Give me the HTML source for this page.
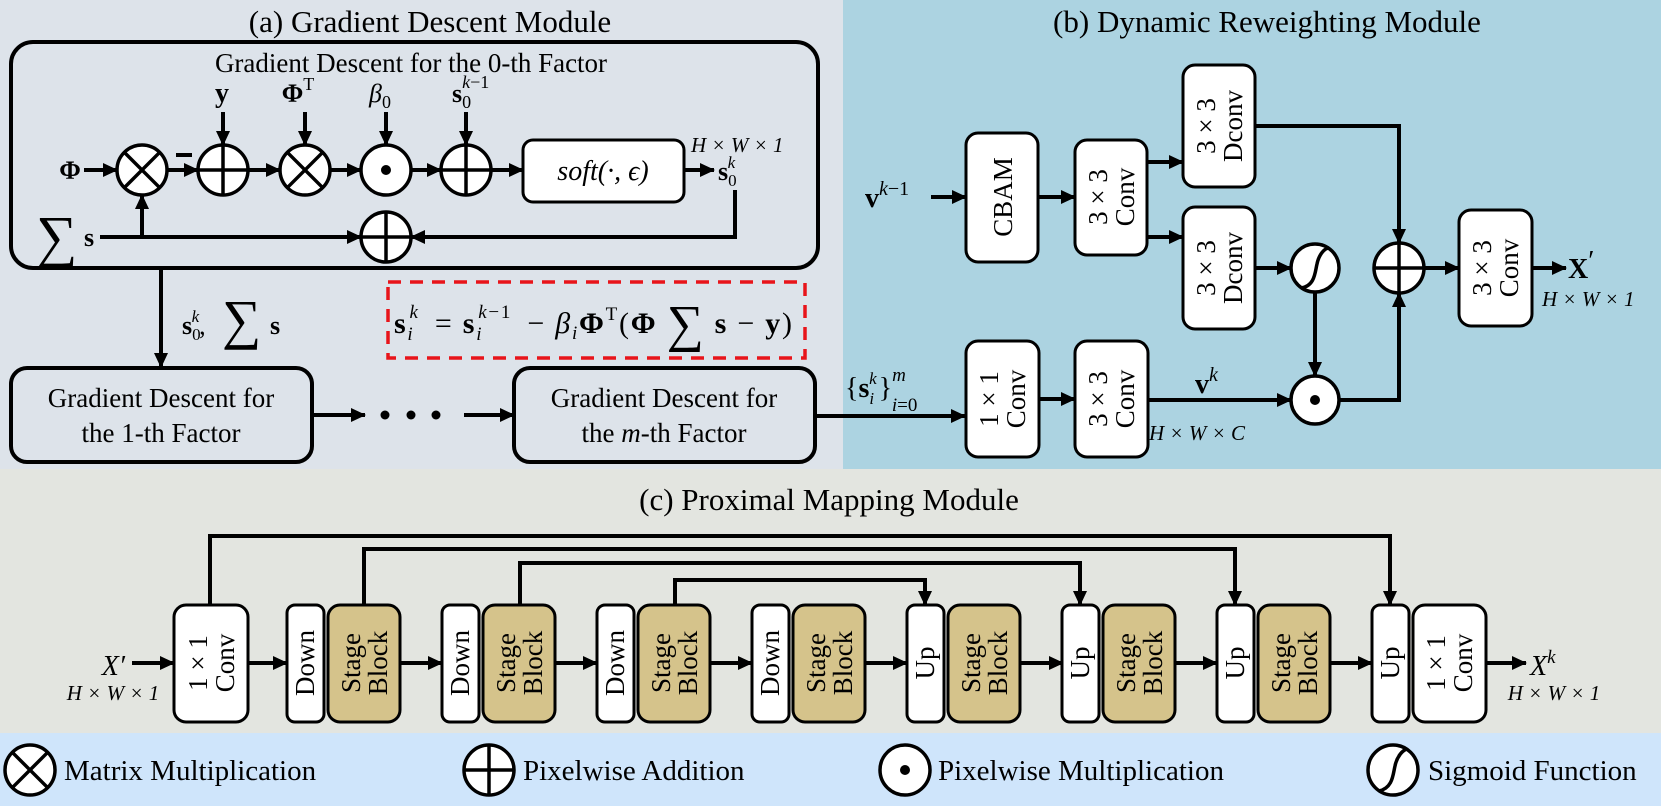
<!DOCTYPE html>
<html><head><meta charset="utf-8"><style>
html,body{margin:0;padding:0;background:#fff}
svg{display:block}
text{font-family:"Liberation Serif",serif;fill:#000}
.it{font-style:italic}
.b{font-weight:bold}
</style></head><body>
<svg width="1661" height="806" viewBox="0 0 1661 806" xmlns="http://www.w3.org/2000/svg">
<defs>
<marker id="a" markerUnits="userSpaceOnUse" markerWidth="16" markerHeight="16" refX="14" refY="8" orient="auto"><path d="M0,1 L15,8 L0,15 z" fill="#000"/></marker>
</defs>
<rect x="0" y="0" width="843" height="469" fill="#dde3ea"/>
<rect x="843" y="0" width="818" height="469" fill="#acd3e1"/>
<rect x="0" y="469" width="1661" height="264" fill="#e3e5e0"/>
<rect x="0" y="733" width="1661" height="73" fill="#cfe5fb"/>

<g stroke="#000" stroke-width="4" fill="none">
<rect x="11" y="42" width="807" height="226" rx="22"/>
<line x1="84" y1="170" x2="117" y2="170" marker-end="url(#a)"/>
<line x1="167" y1="170" x2="198" y2="170" marker-end="url(#a)"/>
<line x1="248" y1="170" x2="280" y2="170" marker-end="url(#a)"/>
<line x1="330" y1="170" x2="361" y2="170" marker-end="url(#a)"/>
<line x1="411" y1="170" x2="441" y2="170" marker-end="url(#a)"/>
<line x1="491" y1="170" x2="523" y2="170" marker-end="url(#a)"/>
<line x1="684" y1="170" x2="714" y2="170" marker-end="url(#a)"/>
<line x1="223" y1="112" x2="223" y2="145" marker-end="url(#a)"/>
<line x1="305" y1="112" x2="305" y2="145" marker-end="url(#a)"/>
<line x1="386" y1="112" x2="386" y2="145" marker-end="url(#a)"/>
<line x1="466" y1="112" x2="466" y2="145" marker-end="url(#a)"/>
<line x1="100" y1="237" x2="361" y2="237" marker-end="url(#a)"/>
<polyline points="735,190 735,237 411,237" marker-end="url(#a)"/>
<line x1="142" y1="237" x2="142" y2="195" marker-end="url(#a)"/>
<line x1="161" y1="268" x2="161" y2="367" marker-end="url(#a)"/>
<rect x="11" y="368" width="301" height="94" rx="16"/>
<rect x="514" y="368" width="301" height="94" rx="16"/>
<line x1="312" y1="415" x2="365" y2="415" marker-end="url(#a)"/>
<line x1="464" y1="415" x2="514" y2="415" marker-end="url(#a)"/>
<line x1="815" y1="416" x2="965" y2="416" marker-end="url(#a)"/>
<line x1="931" y1="197" x2="966" y2="197" marker-end="url(#a)"/>
<line x1="1038" y1="197" x2="1075" y2="197" marker-end="url(#a)"/>
<line x1="1147" y1="162" x2="1183" y2="162" marker-end="url(#a)"/>
<line x1="1147" y1="237" x2="1183" y2="237" marker-end="url(#a)"/>
<polyline points="1255,126 1399,126 1399,243" marker-end="url(#a)"/>
<line x1="1255" y1="268" x2="1291" y2="268" marker-end="url(#a)"/>
<line x1="1315" y1="292" x2="1315" y2="376" marker-end="url(#a)"/>
<line x1="1147" y1="400" x2="1291" y2="400" marker-end="url(#a)"/>
<polyline points="1339,400 1399,400 1399,293" marker-end="url(#a)"/>
<line x1="1424" y1="268" x2="1459" y2="268" marker-end="url(#a)"/>
<line x1="1532" y1="268" x2="1566" y2="268" marker-end="url(#a)"/>
<line x1="1039" y1="399" x2="1075" y2="399" marker-end="url(#a)"/>
<polyline points="210,605 210,536 1390,536 1390,605" marker-end="url(#a)"/>
<polyline points="364,605 364,549 1235,549 1235,605" marker-end="url(#a)"/>
<polyline points="520,605 520,563 1080,563 1080,605" marker-end="url(#a)"/>
<polyline points="675,605 675,580 925,580 925,605" marker-end="url(#a)"/>
<line x1="132" y1="663" x2="174" y2="663" marker-end="url(#a)"/>
<line x1="248" y1="663" x2="287" y2="663" marker-end="url(#a)"/>
<line x1="400" y1="663" x2="442" y2="663" marker-end="url(#a)"/>
<line x1="556" y1="663" x2="597" y2="663" marker-end="url(#a)"/>
<line x1="710" y1="663" x2="752" y2="663" marker-end="url(#a)"/>
<line x1="866" y1="663" x2="907" y2="663" marker-end="url(#a)"/>
<line x1="1021" y1="663" x2="1063" y2="663" marker-end="url(#a)"/>
<line x1="1175" y1="663" x2="1217" y2="663" marker-end="url(#a)"/>
<line x1="1331" y1="663" x2="1372" y2="663" marker-end="url(#a)"/>
<line x1="1486" y1="663" x2="1526" y2="663" marker-end="url(#a)"/>
</g>

<g stroke="#000" stroke-width="3.5" fill="#fff">
<g transform="translate(142,170)"><circle r="25"/><path d="M-17.7,-17.7 L17.7,17.7 M17.7,-17.7 L-17.7,17.7"/></g>
<g transform="translate(305,170)"><circle r="25"/><path d="M-17.7,-17.7 L17.7,17.7 M17.7,-17.7 L-17.7,17.7"/></g>
<g transform="translate(30,770)"><circle r="25"/><path d="M-17.7,-17.7 L17.7,17.7 M17.7,-17.7 L-17.7,17.7"/></g>
<g transform="translate(223,170)"><circle r="25"/><path d="M-25,0 L25,0 M0,-25 L0,25"/></g>
<g transform="translate(466,170)"><circle r="25"/><path d="M-25,0 L25,0 M0,-25 L0,25"/></g>
<g transform="translate(386,237)"><circle r="25"/><path d="M-25,0 L25,0 M0,-25 L0,25"/></g>
<g transform="translate(1399,268)"><circle r="25"/><path d="M-25,0 L25,0 M0,-25 L0,25"/></g>
<g transform="translate(489,770)"><circle r="25"/><path d="M-25,0 L25,0 M0,-25 L0,25"/></g>
<g transform="translate(386,170)"><circle r="25"/><circle r="5" fill="#000" stroke="none"/></g>
<g transform="translate(1315,400)"><circle r="24"/><circle r="5" fill="#000" stroke="none"/></g>
<g transform="translate(905,770)"><circle r="25"/><circle r="5" fill="#000" stroke="none"/></g>
<g transform="translate(1315,268)"><circle r="24"/><path d="M-14,20 C0,18 0,4 2,-4 C4,-14 10,-20 14,-20" fill="none"/></g>
<g transform="translate(1393,770)"><circle r="25"/><path d="M-14,21 C0,18 0,4 2,-4 C4,-14 10,-20 14,-21" fill="none"/></g>
</g>

<rect x="176" y="153" width="16" height="4" fill="#000"/>
<circle cx="385" cy="415" r="4.5" fill="#000"/>
<circle cx="411" cy="415" r="4.5" fill="#000"/>
<circle cx="436" cy="415" r="4.5" fill="#000"/>

<g stroke="#000" stroke-width="3" fill="#fff">
<rect x="523" y="140" width="161" height="62" rx="10"/>
<rect x="966" y="133" width="72" height="129" rx="12"/>
<rect x="1075" y="140" width="72" height="115" rx="12"/>
<rect x="1183" y="65" width="72" height="122" rx="12"/>
<rect x="1183" y="207" width="72" height="122" rx="12"/>
<rect x="1459" y="210" width="73" height="116" rx="12"/>
<rect x="966" y="341" width="73" height="116" rx="12"/>
<rect x="1075" y="341" width="73" height="116" rx="12"/>
<rect x="174" y="605" width="74" height="117" rx="12"/>
<rect x="287" y="605" width="37" height="117" rx="8"/>
<rect x="442" y="605" width="37" height="117" rx="8"/>
<rect x="597" y="605" width="37" height="117" rx="8"/>
<rect x="752" y="605" width="37" height="117" rx="8"/>
<rect x="907" y="605" width="37" height="117" rx="8"/>
<rect x="1062" y="605" width="37" height="117" rx="8"/>
<rect x="1217" y="605" width="37" height="117" rx="8"/>
<rect x="1372" y="605" width="37" height="117" rx="8"/>
<rect x="1413" y="605" width="73" height="117" rx="12"/>
</g>
<g stroke="#000" stroke-width="3" fill="#d5c38b">
<rect x="328" y="605" width="72" height="117" rx="12"/>
<rect x="483" y="605" width="72" height="117" rx="12"/>
<rect x="638" y="605" width="72" height="117" rx="12"/>
<rect x="793" y="605" width="72" height="117" rx="12"/>
<rect x="948" y="605" width="72" height="117" rx="12"/>
<rect x="1103" y="605" width="72" height="117" rx="12"/>
<rect x="1258" y="605" width="72" height="117" rx="12"/>
</g>
<rect x="388" y="282" width="417" height="76" fill="none" stroke="#e8141a" stroke-width="3.5" stroke-dasharray="13,9"/>

<text x="430" y="32" font-size="31" text-anchor="middle">(a) Gradient Descent Module</text>
<text x="1267" y="32" font-size="31" text-anchor="middle">(b) Dynamic Reweighting Module</text>
<text x="829" y="510" font-size="31" text-anchor="middle">(c) Proximal Mapping Module</text>
<text x="411" y="72" font-size="27" text-anchor="middle">Gradient Descent for the 0-th Factor</text>

<text x="70" y="179" font-size="26" class="b" text-anchor="middle">Φ</text>
<text x="222" y="102" font-size="28" class="b" text-anchor="middle">y</text>
<text x="298" y="102" font-size="26" class="b" text-anchor="middle">Φ<tspan font-size="18" font-weight="normal" dy="-12">T</tspan></text>
<text x="380" y="102" font-size="26" class="it" text-anchor="middle">β<tspan font-size="18" font-style="normal" dy="6">0</tspan></text>
<text x="452" y="102" font-size="26" class="b">s<tspan font-size="18" font-weight="normal" dy="6">0</tspan><tspan font-size="18" font-weight="normal" class="it" dx="-9" dy="-20">k</tspan><tspan font-size="18" font-weight="normal" dy="0">−1</tspan></text>
<text x="603" y="180" font-size="28" class="it" text-anchor="middle">soft(·, ϵ)</text>
<text x="691" y="152" font-size="21" class="it">H × W × 1</text>
<text x="718" y="180" font-size="26" class="b">s<tspan font-size="17" font-weight="normal" dy="6">0</tspan><tspan font-size="17" font-weight="normal" class="it" dx="-9" dy="-18">k</tspan></text>
<text x="36" y="256" font-size="58">∑</text>
<text x="84" y="246" font-size="26" class="b">s</text>
<text x="182" y="334" font-size="26" class="b">s<tspan font-size="17" font-weight="normal" dy="6">0</tspan><tspan font-size="17" font-weight="normal" class="it" dx="-9" dy="-18">k</tspan><tspan font-weight="normal" dy="12">,</tspan></text>
<text x="222" y="338" font-size="55">∑</text>
<text x="270" y="334" font-size="26" class="b">s</text>
<text x="394" y="333" font-size="30" textLength="398" lengthAdjust="spacing"><tspan class="b">s</tspan><tspan font-size="19" class="it" dy="7">i</tspan><tspan font-size="19" class="it" dx="-5" dy="-22">k</tspan><tspan dx="6" dy="15"> = </tspan><tspan class="b">s</tspan><tspan font-size="19" class="it" dy="7">i</tspan><tspan font-size="19" dx="-5" dy="-22"><tspan class="it">k</tspan>−1</tspan><tspan dx="6" dy="15"> − </tspan><tspan class="it">β</tspan><tspan font-size="19" class="it" dy="6">i</tspan><tspan class="b" dy="-6">Φ</tspan><tspan font-size="19" dy="-13">T</tspan><tspan dy="13">(</tspan><tspan class="b">Φ </tspan><tspan font-size="52" dy="8">∑</tspan><tspan dy="-8" class="b"> s</tspan> − <tspan class="b">y</tspan>)</text>
<text x="161" y="407" font-size="27" text-anchor="middle">Gradient Descent for</text>
<text x="161" y="442" font-size="27" text-anchor="middle">the 1-th Factor</text>
<text x="664" y="407" font-size="27" text-anchor="middle">Gradient Descent for</text>
<text x="664" y="442" font-size="27" text-anchor="middle">the <tspan class="it">m</tspan>-th Factor</text>

<text x="865" y="207" font-size="28" class="b">v<tspan font-size="20" font-weight="normal" dy="-12"><tspan class="it">k</tspan>−1</tspan></text>
<text x="1195" y="393" font-size="28" class="b">v<tspan font-size="20" font-weight="normal" class="it" dy="-12">k</tspan></text>
<text x="1149" y="440" font-size="21" class="it">H × W × C</text>
<text x="1568" y="278" font-size="28" class="b">X<tspan font-weight="normal" dy="-8">′</tspan></text>
<text x="1542" y="306" font-size="21" class="it">H × W × 1</text>
<text x="845" y="397" font-size="28">{<tspan class="b">s</tspan><tspan font-size="17" class="it" dy="7">i</tspan><tspan font-size="17" class="it" dx="-5" dy="-20">k</tspan><tspan dx="2" dy="13">}</tspan><tspan font-size="19" class="it" dy="-16">m</tspan><tspan font-size="19" dx="-14" dy="30"><tspan class="it">i</tspan>=0</tspan></text>

<g font-size="27">
<text transform="translate(1002,197) rotate(-90)" y="10" text-anchor="middle">CBAM</text>
<text transform="translate(1111,197) rotate(-90)" text-anchor="middle"><tspan x="0" y="-4">3 × 3</tspan><tspan x="0" y="23">Conv</tspan></text>
<text transform="translate(1219,126) rotate(-90)" text-anchor="middle"><tspan x="0" y="-4">3 × 3</tspan><tspan x="0" y="23">Dconv</tspan></text>
<text transform="translate(1219,268) rotate(-90)" text-anchor="middle"><tspan x="0" y="-4">3 × 3</tspan><tspan x="0" y="23">Dconv</tspan></text>
<text transform="translate(1495,268) rotate(-90)" text-anchor="middle"><tspan x="0" y="-4">3 × 3</tspan><tspan x="0" y="23">Conv</tspan></text>
<text transform="translate(1002,399) rotate(-90)" text-anchor="middle"><tspan x="0" y="-4">1 × 1</tspan><tspan x="0" y="23">Conv</tspan></text>
<text transform="translate(1111,399) rotate(-90)" text-anchor="middle"><tspan x="0" y="-4">3 × 3</tspan><tspan x="0" y="23">Conv</tspan></text>
</g>

<text x="125" y="675" font-size="28" class="it" text-anchor="end">X′</text>
<text x="113" y="700" font-size="21" class="it" text-anchor="middle">H × W × 1</text>
<text x="1530" y="675" font-size="28" class="it">X<tspan font-size="19" dy="-12">k</tspan></text>
<text x="1554" y="700" font-size="21" class="it" text-anchor="middle">H × W × 1</text>
<g font-size="27">
<text transform="translate(211,663) rotate(-90)" text-anchor="middle"><tspan x="0" y="-4">1 × 1</tspan><tspan x="0" y="23">Conv</tspan></text>
<text transform="translate(1449,663) rotate(-90)" text-anchor="middle"><tspan x="0" y="-4">1 × 1</tspan><tspan x="0" y="23">Conv</tspan></text>
<text transform="translate(305,663) rotate(-90)" y="9" text-anchor="middle">Down</text>
<text transform="translate(460,663) rotate(-90)" y="9" text-anchor="middle">Down</text>
<text transform="translate(615,663) rotate(-90)" y="9" text-anchor="middle">Down</text>
<text transform="translate(770,663) rotate(-90)" y="9" text-anchor="middle">Down</text>
<text transform="translate(925,663) rotate(-90)" y="9" text-anchor="middle">Up</text>
<text transform="translate(1080,663) rotate(-90)" y="9" text-anchor="middle">Up</text>
<text transform="translate(1235,663) rotate(-90)" y="9" text-anchor="middle">Up</text>
<text transform="translate(1390,663) rotate(-90)" y="9" text-anchor="middle">Up</text>
<text transform="translate(364,663) rotate(-90)" text-anchor="middle"><tspan x="0" y="-4">Stage</tspan><tspan x="0" y="23">Block</tspan></text>
<text transform="translate(519,663) rotate(-90)" text-anchor="middle"><tspan x="0" y="-4">Stage</tspan><tspan x="0" y="23">Block</tspan></text>
<text transform="translate(674,663) rotate(-90)" text-anchor="middle"><tspan x="0" y="-4">Stage</tspan><tspan x="0" y="23">Block</tspan></text>
<text transform="translate(829,663) rotate(-90)" text-anchor="middle"><tspan x="0" y="-4">Stage</tspan><tspan x="0" y="23">Block</tspan></text>
<text transform="translate(984,663) rotate(-90)" text-anchor="middle"><tspan x="0" y="-4">Stage</tspan><tspan x="0" y="23">Block</tspan></text>
<text transform="translate(1139,663) rotate(-90)" text-anchor="middle"><tspan x="0" y="-4">Stage</tspan><tspan x="0" y="23">Block</tspan></text>
<text transform="translate(1294,663) rotate(-90)" text-anchor="middle"><tspan x="0" y="-4">Stage</tspan><tspan x="0" y="23">Block</tspan></text>
</g>

<g font-size="29">
<text x="64" y="780">Matrix Multiplication</text>
<text x="523" y="780">Pixelwise Addition</text>
<text x="938" y="780">Pixelwise Multiplication</text>
<text x="1428" y="780">Sigmoid Function</text>
</g>
</svg>
</body></html>
